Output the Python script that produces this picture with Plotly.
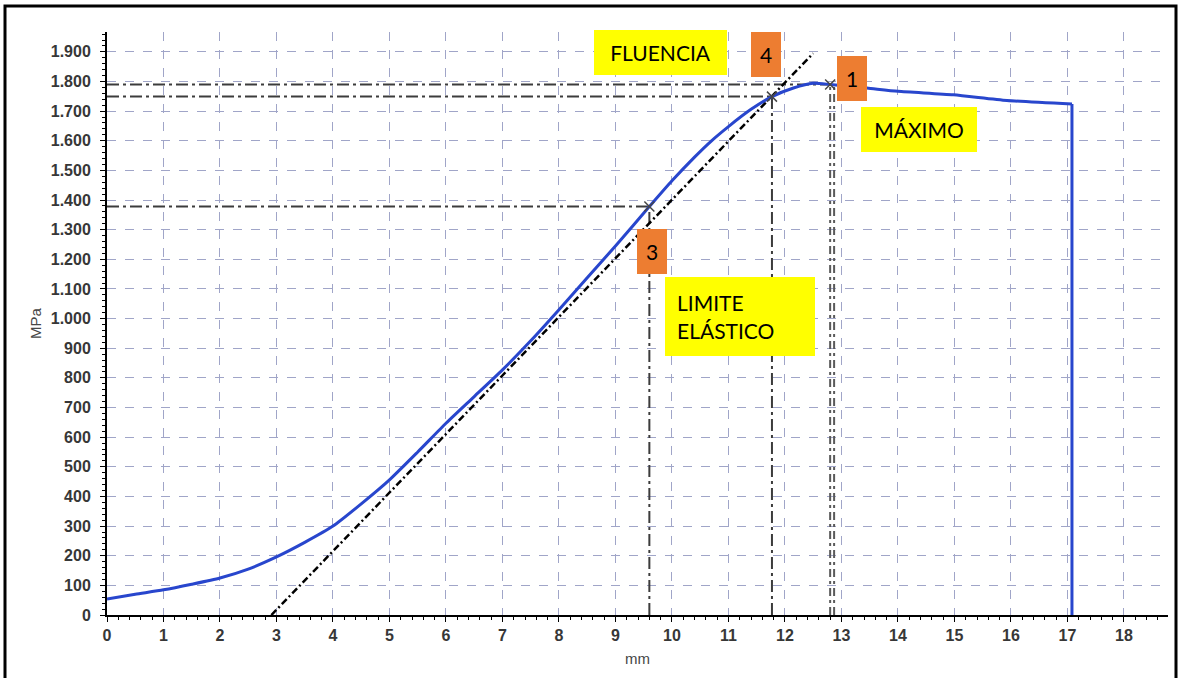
import plotly.graph_objects as go

# ---- data ----
curve_mm = [0, 0.5, 1, 1.5, 2, 2.5, 3, 3.5, 4, 4.5, 5, 5.5, 6, 6.5, 7, 7.5, 8, 8.5, 9,
            9.6, 10, 10.4, 10.7, 11, 11.4, 11.77, 12.15, 12.5, 12.8, 13.45, 14, 14.98, 15.93, 17.08]
curve_mpa = [54, 70, 85, 104, 125, 155, 196, 245, 300, 375, 456, 550, 647, 737, 827, 925, 1030, 1138, 1245,
             1378, 1465, 1545, 1600, 1648, 1706, 1749, 1778, 1794, 1790, 1778, 1767, 1755, 1736, 1724]
break_mm = [17.08, 17.08]
break_mpa = [1724, 0]

elastic_mm = [2.91, 12.5]
elastic_mpa = [0, 1895]

point_mm = [9.6, 11.77, 12.8]        # 3 = límite elástico, 4 = fluencia, 1 = máximo
point_mpa = [1378, 1749, 1790]
max_double_mm = [12.8, 12.87]

y_tick_vals = list(range(0, 2000, 100))
y_tick_text = ["0", "100", "200", "300", "400", "500", "600", "700", "800", "900",
               "1.000", "1.100", "1.200", "1.300", "1.400", "1.500", "1.600", "1.700", "1.800", "1.900"]
x_tick_vals = list(range(0, 19))
x_tick_text = [str(v) for v in x_tick_vals]

labels = ["2", "4", "1", "3", "FLUENCIA", "MÁXIMO", "LIMITE<br>ELÁSTICO"]
label_mm = [12.80, 11.66, 13.19, 9.65, 9.80, 14.37, 11.21]
label_mpa = [1971, 1892, 1811, 1227, 1898, 1639, 1007]

fig = go.Figure()

GRID = "rgb(160,165,200)"
REF = "rgb(60,60,60)"
BLUE = "rgb(40,70,205)"

# horizontal / vertical reference lines to the marked points
for px_, py_ in zip(point_mm, point_mpa):
    fig.add_trace(go.Scatter(x=[0, px_], y=[py_, py_], mode="lines",
                             line=dict(color=REF, width=2, dash="12px,4px,3px,4px"),
                             hoverinfo="skip", showlegend=False))
for px_, py_ in zip(point_mm[:2], point_mpa[:2]):
    fig.add_trace(go.Scatter(x=[px_, px_], y=[0, py_], mode="lines",
                             line=dict(color=REF, width=2, dash="12px,4px,3px,4px"),
                             hoverinfo="skip", showlegend=False))
for mx in max_double_mm:
    fig.add_trace(go.Scatter(x=[mx, mx], y=[0, point_mpa[2]], mode="lines",
                             line=dict(color="rgb(90,90,90)", width=2, dash="8px,4px,3px,4px"),
                             hoverinfo="skip", showlegend=False))

# elastic (offset) line
fig.add_trace(go.Scatter(x=elastic_mm, y=elastic_mpa, mode="lines",
                         line=dict(color="black", width=2.5, dash="7px,3px,2px,3px"),
                         hoverinfo="skip", showlegend=False))

# main curve
fig.add_trace(go.Scatter(x=curve_mm, y=curve_mpa, mode="lines",
                         line=dict(color=BLUE, width=3, shape="spline", smoothing=0.6),
                         showlegend=False))
fig.add_trace(go.Scatter(x=break_mm, y=break_mpa, mode="lines",
                         line=dict(color=BLUE, width=3),
                         hoverinfo="skip", showlegend=False))

# cross markers
fig.add_trace(go.Scatter(x=point_mm, y=point_mpa, mode="markers",
                         marker=dict(symbol="x-thin", size=10,
                                     line=dict(color="rgb(70,70,70)", width=1.5)),
                         hoverinfo="skip", showlegend=False))

# annotation boxes
styles = [
    dict(bg="#ED7D31", w=30, h=44, pad=0, align="center"),
    dict(bg="#ED7D31", w=30, h=45, pad=0, align="center"),
    dict(bg="#ED7D31", w=30, h=45, pad=0, align="center"),
    dict(bg="#ED7D31", w=30, h=45, pad=0, align="center"),
    dict(bg="#FFFF00", w=133, h=45, pad=0, align="center"),
    dict(bg="#FFFF00", w=116, h=45, pad=0, align="center"),
    dict(bg="#FFFF00", w=126, h=55, pad=12, align="left"),
]
for t, xx, yy, s in zip(labels, label_mm, label_mpa, styles):
    fig.add_annotation(x=xx, y=yy, xref="x", yref="y", text=t, showarrow=False,
                       xanchor="center", yanchor="middle",
                       bgcolor=s["bg"], width=s["w"], height=s["h"], borderpad=s["pad"],
                       borderwidth=0, align=s["align"],
                       font=dict(family="Lato, Open Sans, sans-serif", size=21, color="black"))

# outer frame
fig.add_shape(type="rect", xref="paper", yref="paper",
              x0=(5 - 107) / 1061, x1=(1176 - 107) / 1061,
              y0=(615 - 700) / 583, y1=(615 - 6) / 583,
              line=dict(color="black", width=3), fillcolor="rgba(0,0,0,0)", layer="above")

tickfont = dict(family="Liberation Sans, Arial, sans-serif", size=16, color="rgb(55,55,55)",
                weight="bold")

fig.update_layout(
    width=1179, height=678,
    margin=dict(l=107, r=11, t=32, b=63, autoexpand=False),
    paper_bgcolor="white", plot_bgcolor="white",
    xaxis=dict(range=[0, 18.78], tickvals=x_tick_vals, ticktext=x_tick_text,
               showline=True, linecolor="black", linewidth=2,
               ticks="outside", ticklen=5, tickcolor="black", tickwidth=1,
               minor=dict(dtick=0.2, ticks="outside", ticklen=3, tickcolor="black", showgrid=False),
               showgrid=True, gridcolor=GRID, griddash="dash", gridwidth=1,
               zeroline=False, tickfont=tickfont,
               title=dict(text="mm", font=dict(family="Liberation Sans, Arial, sans-serif",
                                               size=15, color="rgb(70,70,70)"), standoff=10)),
    yaxis=dict(range=[0, 1967], tickvals=y_tick_vals, ticktext=y_tick_text,
               showline=True, linecolor="black", linewidth=2,
               ticks="outside", ticklen=5, tickcolor="black", tickwidth=1,
               minor=dict(dtick=20, ticks="outside", ticklen=3, tickcolor="black", showgrid=False),
               showgrid=True, gridcolor=GRID, griddash="dash", gridwidth=1,
               zeroline=False, tickfont=tickfont, ticklabelstandoff=6,
               title=dict(text="MPa", font=dict(family="Liberation Sans, Arial, sans-serif",
                                                size=15, color="rgb(70,70,70)"), standoff=6)),
)

fig.write_html("out.html", config={"displayModeBar": False},
               post_script="document.body.style.margin='0';")
